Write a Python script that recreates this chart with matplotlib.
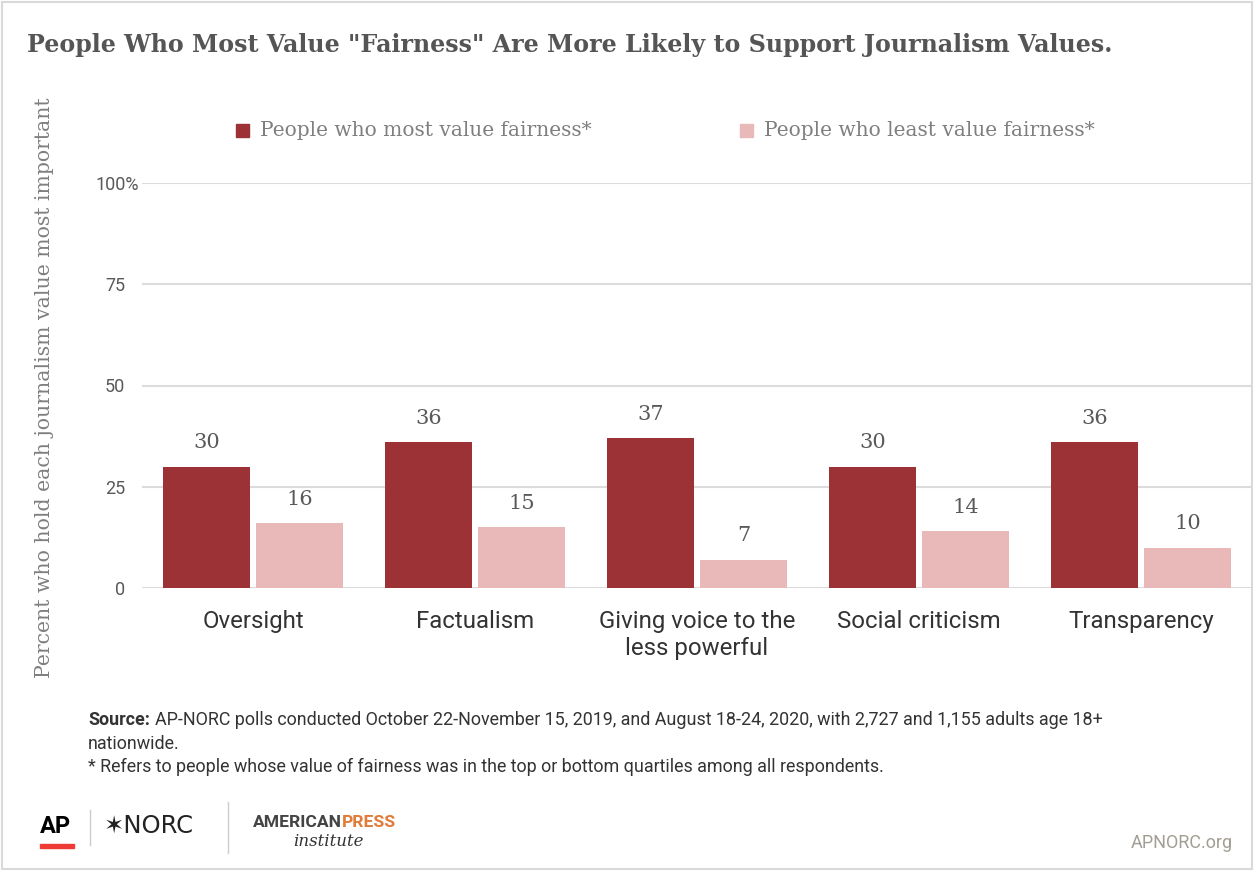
import numpy as np
import matplotlib.pyplot as plt
from matplotlib.patches import Rectangle
from matplotlib.lines import Line2D
from matplotlib.transforms import ScaledTranslation

categories = ["Oversight", "Factualism", "Giving voice to the\nless powerful",
              "Social criticism", "Transparency"]
most_fair = [30, 36, 37, 30, 36]
least_fair = [16, 15, 7, 14, 10]
series_names = ["People who most value fairness*", "People who least value fairness*"]
yticks = [0, 25, 50, 75, 100]
ytick_labels = ["0", "25", "50", "75", "100%"]

dark = "#9c3236"
light = "#e8b9b8"
grey_txt = "#595959"
serif = ["DejaVu Serif"]
sans = ["Roboto", "DejaVu Sans"]

fig = plt.figure(figsize=(12.54, 8.71), dpi=100)
ax = fig.add_axes([142 / 1254, 1 - 588 / 871, 1110 / 1254, 405 / 871])

x = np.arange(len(categories))
w = 0.39
ax.bar(x - 0.21, most_fair, w, color=dark, zorder=3)
ax.bar(x + 0.21, least_fair, w, color=light, zorder=3)
for i in range(len(categories)):
    ax.text(x[i] - 0.21, most_fair[i] + 3.5, str(most_fair[i]), ha="center", va="bottom",
            fontsize=15, color=grey_txt, family=serif)
    ax.text(x[i] + 0.21, least_fair[i] + 3.5, str(least_fair[i]), ha="center", va="bottom",
            fontsize=15, color=grey_txt, family=serif)

ax.set_xlim(-0.5, len(categories) - 0.5)
ax.set_ylim(0, 100)
ax.set_yticks(yticks)
ax.set_yticklabels(ytick_labels, fontsize=13, color=grey_txt, family=sans)
ax.yaxis.grid(True, color="#dcdcdc", linewidth=1.5, zorder=0)
ax.tick_params(axis="y", length=0, pad=12)
# the percent sign hangs past the other labels
lab = ax.get_yticklabels()[-1]
lab.set_transform(lab.get_transform() + ScaledTranslation(14 / 100, 0, fig.dpi_scale_trans))
ax.set_xticks(x)
ax.set_xticklabels(categories, fontsize=17.3, color="#333333", family=sans, linespacing=1.2)
ax.tick_params(axis="x", length=0, pad=16)
for s in ax.spines.values():
    s.set_visible(False)

# y label
fig.text(45 / 1254, 1 - 388 / 871, "Percent who hold each journalism value most important",
         rotation=90, ha="center", va="center", fontsize=14.7, color="#7f7f7f", family=serif)

# title
fig.text(27 / 1254, 1 - 45 / 871,
         'People Who Most Value "Fairness" Are More Likely to Support Journalism Values.',
         ha="left", va="center", fontsize=17.1, fontweight="bold", color="#555555",
         family=serif)

# legend
for px, name, col in [(243, series_names[0], dark), (747, series_names[1], light)]:
    fig.patches.append(Rectangle(((px - 7) / 1254, 1 - 137 / 871), 13 / 1254, 13 / 871,
                                 transform=fig.transFigure, color=col))
    fig.text((px + 17) / 1254, 1 - 130 / 871, name, ha="left", va="center",
             fontsize=14.5, color="#7f7f7f", family=serif)

# source note
note_fs = 12.9
src = fig.text(88 / 1254, 1 - 720 / 871, "Source:", ha="left", va="center", fontsize=note_fs,
               fontweight="bold", color="#333333", family=sans)
fig.canvas.draw()
sb = src.get_window_extent()
fig.text((sb.x1 + 5) / 1254, 1 - 720 / 871,
         "AP-NORC polls conducted October 22-November 15, 2019, and August 18-24, 2020, with 2,727 and 1,155 adults age 18+",
         ha="left", va="center", fontsize=note_fs, color="#333333", family=sans)
fig.text(88 / 1254, 1 - 744 / 871, "nationwide.", ha="left", va="center", fontsize=note_fs,
         color="#333333", family=sans)
fig.text(88 / 1254, 1 - 767 / 871,
         "* Refers to people whose value of fairness was in the top or bottom quartiles among all respondents.",
         ha="left", va="center", fontsize=note_fs, color="#333333", family=sans)

# logos
fig.text(40 / 1254, 1 - 826 / 871, "AP", ha="left", va="center", fontsize=17,
         fontweight="bold", color="black", family=sans)
fig.patches.append(Rectangle((40 / 1254, 1 - 848 / 871), 34 / 1254, 4 / 871,
                             transform=fig.transFigure, color="#ef3b36"))
fig.lines.append(Line2D([90 / 1254, 90 / 1254], [1 - 845 / 871, 1 - 810 / 871],
                        transform=fig.transFigure, color="#cccccc", linewidth=1))
fig.text(104 / 1254, 1 - 826 / 871, "\u2736NORC", ha="left", va="center", fontsize=17.5,
         color="#222222", family=["DejaVu Sans"])
fig.lines.append(Line2D([228 / 1254, 228 / 1254], [1 - 853 / 871, 1 - 802 / 871],
                        transform=fig.transFigure, color="#cccccc", linewidth=1))
t1 = fig.text(253 / 1254, 1 - 822 / 871, "AMERICAN", ha="left", va="center", fontsize=12.6,
              fontweight="bold", color="#444444", family=sans)
fig.canvas.draw()
bb = t1.get_window_extent()
fig.text(bb.x1 / 1254, 1 - 822 / 871, "PRESS", ha="left", va="center", fontsize=12.6,
         fontweight="bold", color="#e07b39", family=sans)
fig.text(328 / 1254, 1 - 841 / 871, "institute", ha="center", va="center", fontsize=12,
         style="italic", color="#333333", family=serif)
fig.text(1233 / 1254, 1 - 843 / 871, "APNORC.org", ha="right", va="center", fontsize=13,
         color="#a39e94", family=sans)

# border
fig.patches.append(Rectangle((2 / 1254, 2 / 871), 1250 / 1254, 867 / 871,
                             transform=fig.transFigure, fill=False, edgecolor="#d9d9d9",
                             linewidth=1.5))

fig.savefig("out.png", dpi=100)
